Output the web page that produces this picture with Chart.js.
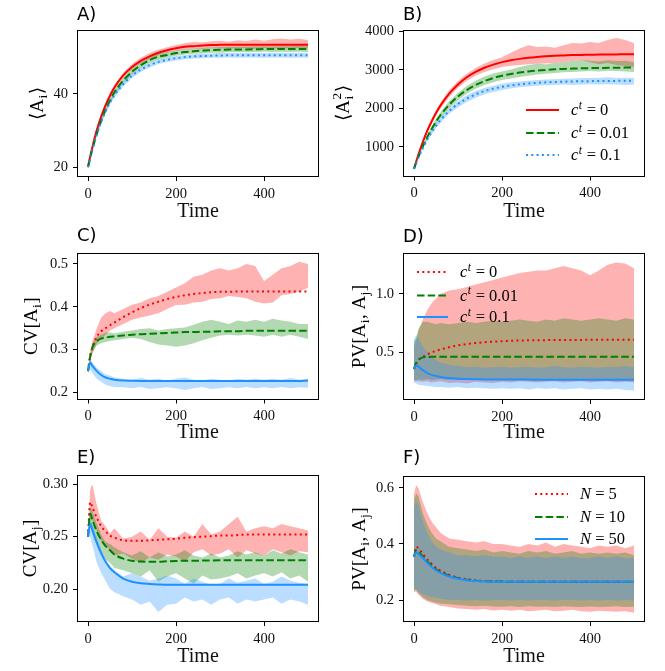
<!DOCTYPE html>
<html>
<head>
<meta charset="utf-8">
<script src="https://cdn.jsdelivr.net/npm/chart.js@4.4.1/dist/chart.umd.min.js"></script>
<style>
  body { margin: 0; background: #fff; width: 665px; height: 671px; position: relative; overflow: hidden; }
  canvas { position: absolute; }
</style>
</head>
<body>
<canvas id="cA"></canvas>
<canvas id="cB"></canvas>
<canvas id="cC"></canvas>
<canvas id="cD"></canvas>
<canvas id="cE"></canvas>
<canvas id="cF"></canvas>
<script>
// time grid shared by every series
const T = [0,5,10,20,30,40,50,60,80,100,120,140,160,180,200,220,240,260,280,300,320,340,360,380,400,420,440,460,480,500];

// A) <A_i>
const aRed    = [20,22.9,25.5,30.1,33.8,36.9,39.5,41.7,45.0,47.3,49.0,50.2,51.2,51.9,52.4,52.8,53.0,53.2,53.3,53.35,53.4,53.4,53.4,53.4,53.4,53.4,53.4,53.4,53.4,53.4];
const aRedLo  = [20,22.6,25.1,29.5,33.1,36.2,38.8,41.0,44.3,46.6,48.3,49.5,50.5,51.2,51.7,52.0,52.2,52.3,52.4,52.4,52.3,52.5,52.4,52.3,52.5,52.4,52.3,52.4,52.5,52.4];
const aRedHi  = [20,23.2,25.9,30.7,34.5,37.6,40.2,42.4,45.7,48.1,49.8,51.1,52.0,52.7,53.3,53.8,54.1,54.0,54.3,54.5,54.2,54.6,54.4,54.8,54.5,54.9,55.1,54.8,55.0,54.7];
const aGreen  = [20,22.6,24.9,29.1,32.7,35.7,38.2,40.4,43.6,46.0,47.8,49.2,50.1,50.6,51.1,51.4,51.6,51.8,51.9,52.0,52.05,52.1,52.1,52.15,52.2,52.2,52.2,52.2,52.2,52.2];
const aGreenLo = [20,22.3,24.5,28.6,32.1,35.0,37.5,39.7,42.9,45.2,47.0,48.4,49.3,49.9,50.4,50.7,50.9,51.0,51.2,51.2,51.3,51.4,51.3,51.4,51.5,51.4,51.5,51.4,51.5,51.4];
const aGreenHi = [20,22.9,25.3,29.6,33.3,36.4,38.9,41.1,44.3,46.8,48.6,50.0,50.9,51.4,51.8,52.1,52.3,52.5,52.6,52.7,52.8,52.8,52.9,52.9,53.0,52.9,53.0,53.0,53.1,53.0];
const aBlue   = [20,22.5,24.8,28.9,32.3,35.2,37.6,39.6,42.6,44.9,46.6,47.8,48.7,49.3,49.7,50.0,50.2,50.3,50.4,50.45,50.5,50.5,50.5,50.5,50.5,50.5,50.5,50.5,50.5,50.5];
const aBlueLo = [20,22.2,24.4,28.4,31.7,34.6,37.0,39.0,42.0,44.3,46.0,47.2,48.1,48.7,49.1,49.4,49.6,49.7,49.8,49.8,49.9,49.8,49.9,49.9,49.8,49.9,49.9,49.8,49.9,49.8];
const aBlueHi = [20,22.8,25.2,29.4,32.9,35.8,38.2,40.2,43.2,45.5,47.2,48.4,49.3,49.9,50.3,50.6,50.8,50.9,51.0,51.1,51.1,51.2,51.1,51.2,51.1,51.2,51.2,51.1,51.2,51.1];

// B) <A_i^2>
const bRed    = [430,622,802,1127,1414,1661,1881,2072,2385,2624,2809,2948,3058,3139,3204,3252,3288,3317,3339,3356,3368,3377,3386,3392,3395,3400,3403,3405,3407,3410];
const bRedLo  = [430,600,770,1080,1360,1600,1810,2000,2300,2540,2720,2850,2950,3020,3080,3110,3130,3150,3160,3170,3180,3200,3230,3260,3200,3150,3180,3130,3100,3080];
const bRedHi  = [430,640,830,1170,1470,1720,1950,2150,2470,2710,2900,3050,3170,3260,3330,3450,3560,3640,3600,3610,3580,3640,3700,3690,3730,3700,3780,3830,3780,3700];
const bGreen  = [430,590,740,1013,1255,1466,1656,1822,2096,2310,2478,2608,2710,2789,2850,2897,2934,2963,2986,3003,3017,3028,3036,3043,3048,3052,3055,3058,3061,3064];
const bGreenLo = [430,575,715,975,1200,1400,1580,1740,2000,2210,2380,2510,2610,2680,2740,2780,2820,2850,2880,2900,2920,2940,2950,2960,2970,2960,2980,2970,2960,2950];
const bGreenHi = [430,605,765,1050,1310,1530,1730,1900,2190,2410,2580,2720,2830,2910,2960,3010,3080,3130,3160,3150,3180,3200,3230,3260,3240,3220,3250,3230,3240,3210];
const bBlue   = [430,578,716,966,1186,1376,1545,1692,1932,2115,2257,2365,2450,2512,2562,2599,2626,2649,2665,2679,2688,2695,2702,2706,2709,2712,2714,2716,2718,2719];
const bBlueLo = [430,565,695,935,1145,1330,1490,1630,1860,2030,2170,2280,2370,2430,2480,2520,2550,2570,2590,2600,2610,2620,2610,2620,2630,2620,2630,2620,2610,2620];
const bBlueHi = [430,590,735,995,1225,1420,1595,1750,2000,2190,2340,2450,2530,2590,2640,2680,2700,2720,2740,2750,2760,2770,2780,2790,2790,2800,2810,2790,2800,2790];

// C) CV[A_i]
const cRed    = [0.25,0.285,0.305,0.33,0.343,0.35,0.357,0.363,0.376,0.387,0.397,0.405,0.412,0.418,0.423,0.427,0.43,0.432,0.434,0.435,0.435,0.436,0.436,0.436,0.436,0.436,0.436,0.436,0.436,0.436];
const cRedLo  = [0.25,0.27,0.29,0.315,0.325,0.335,0.345,0.35,0.36,0.37,0.375,0.38,0.385,0.395,0.404,0.405,0.41,0.412,0.418,0.42,0.425,0.423,0.42,0.412,0.408,0.41,0.427,0.43,0.435,0.445];
const cRedHi  = [0.25,0.295,0.32,0.35,0.375,0.385,0.39,0.385,0.395,0.405,0.41,0.42,0.425,0.435,0.445,0.455,0.47,0.475,0.485,0.49,0.485,0.49,0.5,0.495,0.46,0.475,0.49,0.495,0.505,0.5];
const cGreen  = [0.25,0.285,0.305,0.32,0.326,0.328,0.33,0.331,0.333,0.335,0.336,0.337,0.338,0.339,0.34,0.341,0.341,0.342,0.342,0.343,0.343,0.343,0.344,0.344,0.344,0.344,0.344,0.344,0.344,0.344];
const cGreenLo = [0.25,0.28,0.295,0.31,0.315,0.318,0.32,0.322,0.325,0.328,0.325,0.318,0.312,0.31,0.307,0.31,0.315,0.322,0.328,0.333,0.335,0.333,0.335,0.333,0.33,0.335,0.33,0.335,0.33,0.325];
const cGreenHi = [0.25,0.29,0.315,0.33,0.335,0.34,0.34,0.338,0.342,0.345,0.348,0.35,0.345,0.348,0.35,0.352,0.358,0.365,0.37,0.365,0.36,0.368,0.365,0.37,0.365,0.372,0.368,0.365,0.36,0.36];
const cBlue   = [0.25,0.27,0.262,0.25,0.241,0.235,0.232,0.23,0.228,0.2275,0.227,0.227,0.227,0.227,0.227,0.227,0.227,0.227,0.227,0.227,0.227,0.227,0.227,0.227,0.227,0.227,0.227,0.227,0.227,0.228];
const cBlueLo = [0.245,0.255,0.245,0.232,0.225,0.218,0.215,0.213,0.212,0.21,0.213,0.208,0.21,0.212,0.21,0.206,0.21,0.213,0.208,0.21,0.212,0.21,0.213,0.21,0.212,0.21,0.213,0.21,0.212,0.211];
const cBlueHi = [0.255,0.275,0.27,0.258,0.25,0.242,0.24,0.235,0.232,0.23,0.234,0.23,0.232,0.228,0.232,0.235,0.23,0.228,0.232,0.23,0.228,0.232,0.23,0.233,0.23,0.232,0.23,0.234,0.23,0.232];

// D) PV[A_i, A_j]
const dRed    = [0.355,0.4,0.43,0.46,0.48,0.497,0.51,0.522,0.542,0.558,0.57,0.578,0.585,0.59,0.594,0.597,0.6,0.601,0.602,0.603,0.604,0.604,0.605,0.605,0.606,0.606,0.606,0.607,0.607,0.607];
const dRedLo  = [0.25,0.25,0.25,0.245,0.25,0.24,0.245,0.25,0.235,0.24,0.23,0.245,0.24,0.235,0.245,0.24,0.25,0.245,0.24,0.245,0.25,0.24,0.245,0.25,0.24,0.245,0.25,0.24,0.245,0.24];
const dRedHi  = [0.55,0.6,0.68,0.78,0.86,0.92,0.96,1.0,1.03,1.04,1.06,1.08,1.1,1.12,1.14,1.16,1.18,1.19,1.2,1.2,1.22,1.24,1.22,1.2,1.16,1.2,1.25,1.27,1.26,1.22];
const dGreen  = [0.355,0.41,0.435,0.455,0.458,0.46,0.46,0.46,0.46,0.46,0.46,0.46,0.46,0.46,0.46,0.46,0.46,0.46,0.46,0.46,0.46,0.46,0.46,0.46,0.46,0.46,0.46,0.46,0.46,0.46];
const dGreenLo = [0.26,0.26,0.265,0.26,0.27,0.26,0.265,0.27,0.26,0.265,0.26,0.27,0.265,0.26,0.27,0.265,0.26,0.27,0.265,0.26,0.27,0.265,0.26,0.27,0.265,0.26,0.27,0.265,0.26,0.265];
const dGreenHi = [0.6,0.62,0.7,0.76,0.76,0.75,0.74,0.75,0.74,0.75,0.76,0.75,0.76,0.77,0.76,0.77,0.78,0.77,0.76,0.78,0.77,0.79,0.78,0.77,0.78,0.79,0.78,0.77,0.79,0.78];
const dBlue   = [0.355,0.385,0.375,0.345,0.32,0.305,0.295,0.287,0.277,0.272,0.269,0.267,0.266,0.265,0.265,0.264,0.264,0.264,0.263,0.263,0.263,0.263,0.263,0.263,0.263,0.263,0.263,0.263,0.263,0.263];
const dBlueLo = [0.24,0.23,0.22,0.215,0.21,0.205,0.2,0.2,0.195,0.2,0.19,0.195,0.19,0.185,0.19,0.185,0.19,0.18,0.19,0.185,0.19,0.18,0.185,0.19,0.18,0.185,0.18,0.185,0.175,0.17];
const dBlueHi = [0.6,0.65,0.62,0.55,0.5,0.46,0.43,0.41,0.39,0.38,0.37,0.375,0.365,0.37,0.375,0.365,0.37,0.375,0.365,0.37,0.38,0.37,0.365,0.375,0.37,0.365,0.375,0.37,0.38,0.37];

// E) CV[A_j]
const eRed    = [0.25,0.283,0.278,0.268,0.26,0.255,0.251,0.249,0.2465,0.246,0.246,0.2465,0.247,0.2475,0.248,0.249,0.2495,0.25,0.2505,0.251,0.251,0.2515,0.252,0.252,0.252,0.252,0.252,0.252,0.252,0.252];
const eRedLo  = [0.25,0.268,0.265,0.255,0.245,0.24,0.238,0.232,0.234,0.229,0.225,0.23,0.228,0.233,0.231,0.226,0.235,0.238,0.232,0.234,0.238,0.23,0.237,0.234,0.232,0.238,0.235,0.232,0.236,0.235];
const eRedHi  = [0.25,0.295,0.3,0.28,0.265,0.26,0.253,0.258,0.248,0.25,0.255,0.247,0.258,0.25,0.249,0.255,0.25,0.262,0.252,0.255,0.262,0.269,0.255,0.258,0.26,0.258,0.262,0.26,0.258,0.256];
const eGreen  = [0.25,0.272,0.266,0.255,0.247,0.241,0.237,0.233,0.229,0.227,0.2262,0.226,0.226,0.2265,0.2268,0.227,0.227,0.2272,0.2273,0.2274,0.2275,0.2275,0.2275,0.2275,0.2275,0.2275,0.2275,0.2275,0.2275,0.2275];
const eGreenLo = [0.25,0.26,0.255,0.245,0.235,0.228,0.225,0.22,0.218,0.215,0.212,0.218,0.207,0.212,0.215,0.21,0.205,0.213,0.209,0.21,0.212,0.215,0.21,0.213,0.215,0.212,0.216,0.21,0.213,0.207];
const eGreenHi = [0.25,0.278,0.275,0.262,0.252,0.245,0.243,0.24,0.235,0.232,0.236,0.23,0.235,0.231,0.233,0.237,0.232,0.23,0.234,0.23,0.232,0.236,0.233,0.235,0.232,0.237,0.234,0.238,0.235,0.233];
const eBlue   = [0.25,0.262,0.256,0.244,0.234,0.226,0.22,0.216,0.21,0.207,0.2055,0.2048,0.2043,0.204,0.204,0.204,0.204,0.204,0.204,0.204,0.204,0.204,0.204,0.204,0.204,0.204,0.204,0.204,0.204,0.204];
const eBlueLo = [0.25,0.25,0.242,0.225,0.215,0.208,0.2,0.197,0.193,0.19,0.185,0.188,0.178,0.185,0.186,0.192,0.188,0.19,0.185,0.19,0.192,0.186,0.19,0.188,0.19,0.192,0.186,0.19,0.188,0.185];
const eBlueHi = [0.25,0.265,0.262,0.25,0.238,0.228,0.222,0.218,0.212,0.215,0.212,0.208,0.21,0.213,0.21,0.205,0.21,0.207,0.204,0.205,0.21,0.206,0.208,0.21,0.205,0.207,0.212,0.208,0.206,0.205];

// F) PV[A_i, A_j] for several N
const fRed    = [0.355,0.39,0.385,0.365,0.345,0.33,0.315,0.305,0.29,0.28,0.274,0.27,0.268,0.267,0.266,0.265,0.265,0.265,0.265,0.265,0.265,0.265,0.265,0.265,0.265,0.265,0.265,0.265,0.265,0.265];
const fRedLo  = [0.23,0.23,0.22,0.205,0.195,0.19,0.185,0.18,0.175,0.17,0.168,0.165,0.168,0.163,0.165,0.162,0.165,0.16,0.163,0.165,0.16,0.162,0.165,0.16,0.158,0.162,0.16,0.158,0.16,0.155];
const fRedHi  = [0.58,0.61,0.6,0.55,0.51,0.48,0.46,0.44,0.42,0.415,0.41,0.405,0.41,0.4,0.4,0.395,0.39,0.4,0.395,0.405,0.39,0.4,0.395,0.39,0.385,0.395,0.39,0.395,0.385,0.395];
const fGreen  = [0.355,0.378,0.372,0.355,0.338,0.323,0.31,0.3,0.287,0.278,0.272,0.269,0.267,0.266,0.266,0.265,0.265,0.265,0.265,0.265,0.265,0.265,0.265,0.265,0.265,0.265,0.265,0.265,0.265,0.265];
const fGreenLo = [0.235,0.235,0.225,0.21,0.2,0.195,0.19,0.188,0.185,0.182,0.18,0.178,0.18,0.177,0.176,0.178,0.175,0.178,0.176,0.177,0.175,0.178,0.176,0.175,0.177,0.175,0.176,0.178,0.175,0.176];
const fGreenHi = [0.56,0.58,0.57,0.51,0.47,0.44,0.42,0.41,0.39,0.385,0.38,0.375,0.38,0.37,0.375,0.37,0.365,0.375,0.37,0.375,0.365,0.37,0.375,0.365,0.37,0.365,0.37,0.365,0.37,0.36];
const fBlue   = [0.355,0.37,0.365,0.35,0.333,0.318,0.306,0.297,0.284,0.276,0.271,0.268,0.266,0.265,0.265,0.265,0.265,0.265,0.265,0.265,0.265,0.265,0.265,0.265,0.265,0.265,0.265,0.265,0.265,0.265];
const fBlueLo = [0.24,0.24,0.23,0.22,0.215,0.21,0.21,0.205,0.2,0.2,0.198,0.2,0.198,0.2,0.2,0.198,0.2,0.198,0.2,0.2,0.198,0.2,0.2,0.198,0.2,0.198,0.2,0.198,0.2,0.198];
const fBlueHi = [0.53,0.55,0.54,0.48,0.44,0.41,0.39,0.38,0.37,0.36,0.36,0.355,0.36,0.355,0.355,0.35,0.355,0.35,0.355,0.35,0.355,0.35,0.355,0.35,0.35,0.355,0.35,0.355,0.35,0.35];

// tick labels
const xTicks = [0, 200, 400];
const yTicksA = [20, 40];
const yTicksB = [1000, 2000, 3000, 4000];
const yTicksC = [0.2, 0.3, 0.4, 0.5];
const yTicksD = [0.5, 1.0];
const yTicksE = [0.20, 0.25, 0.30];
const yTicksF = [0.2, 0.4, 0.6];

const ctLabels = [[{it: 'c'}, {sup: 't', itScript: true}, ' = 0'],
                  [{it: 'c'}, {sup: 't', itScript: true}, ' = 0.01'],
                  [{it: 'c'}, {sup: 't', itScript: true}, ' = 0.1']];
const nLabels = [[{it: 'N'}, ' = 5'], [{it: 'N'}, ' = 10'], [{it: 'N'}, ' = 50']];

const SERIF = "'Liberation Serif', 'DejaVu Serif', serif";
const SANS = "'DejaVu Sans', sans-serif";
const COLORS = ['#ff0000', '#008000', '#1e90ff'];
const FILLS = ['rgba(255,0,0,0.3)', 'rgba(0,128,0,0.3)', 'rgba(30,144,255,0.3)'];
const SOLID = [], DASHED = [7.5, 3.2], DOTTED = [2, 3.3];

const pts = ys => T.map((t, i) => ({x: t, y: ys[i]}));

function fontOf(size, italic) {
    return (italic ? 'italic ' : '') + size + 'px ' + SERIF;
}

// tiny math text: strings upright, {it} italic, {sub,sup} scripts
function drawMath(ctx, parts, x, y, size, align) {
    const widths = parts.map(p => {
        if (typeof p === 'string') { ctx.font = fontOf(size); return ctx.measureText(p).width; }
        if (p.it) { ctx.font = fontOf(size, true); return ctx.measureText(p.it).width; }
        ctx.font = fontOf(size * 0.7, p.itScript);
        return Math.max(...[p.sub, p.sup].filter(Boolean).map(s => ctx.measureText(s).width)) + 1;
    });
    const total = widths.reduce((a, b) => a + b, 0);
    let cx = align === 'center' ? x - total / 2 : x;
    const base = y + size * 0.33;
    ctx.textAlign = 'left';
    ctx.textBaseline = 'alphabetic';
    parts.forEach((p, i) => {
        if (typeof p === 'string') { ctx.font = fontOf(size); ctx.fillText(p, cx, base); }
        else if (p.it) { ctx.font = fontOf(size, true); ctx.fillText(p.it, cx, base); }
        else {
            ctx.font = fontOf(size * 0.7, p.itScript);
            if (p.sub) ctx.fillText(p.sub, cx + 0.5, base + size * 0.22);
            if (p.sup) ctx.fillText(p.sup, cx + 0.5, base - size * 0.42);
        }
        cx += widths[i];
    });
}

const panels = [
    {id: 'cA', box: [0, 0, 330, 224], area: [77, 30, 319, 177], yRange: [17.3, 57.4], yTicks: yTicksA, dec: 0,
     title: 'A)', titleY: 20, yLabX: 37, yLab: ['⟨A', {sub: 'i'}, '⟩'],
     series: [[aRed, aRedLo, aRedHi, SOLID], [aGreen, aGreenLo, aGreenHi, DASHED], [aBlue, aBlueLo, aBlueHi, DOTTED]]},
    {id: 'cB', box: [333, 0, 332, 224], area: [403, 29.5, 645, 176.5], yRange: [230, 4052], yTicks: yTicksB, dec: 0,
     title: 'B)', titleY: 20, yLabX: 343, yLab: ['⟨A', {sub: 'i', sup: '2'}, '⟩'],
     series: [[bRed, bRedLo, bRedHi, SOLID], [bGreen, bGreenLo, bGreenHi, DASHED], [bBlue, bBlueLo, bBlueHi, DOTTED]],
     legend: {x0: 526, x1: 559, tx: 571, rows: [110, 133, 155], labels: ctLabels}},
    {id: 'cC', box: [0, 224, 330, 221], area: [77, 253, 319, 399.5], yRange: [0.1837, 0.5256], yTicks: yTicksC, dec: 1,
     title: 'C)', titleY: 240.7, yLabX: 31, yLab: ['CV[A', {sub: 'i'}, ']'],
     series: [[cRed, cRedLo, cRedHi, DOTTED], [cGreen, cGreenLo, cGreenHi, DASHED], [cBlue, cBlueLo, cBlueHi, SOLID]]},
    {id: 'cD', box: [333, 224, 332, 221], area: [403, 253, 645, 400], yRange: [0.089, 1.351], yTicks: yTicksD, dec: 1,
     title: 'D)', titleY: 241.7, yLabX: 359, yLab: ['PV[A', {sub: 'i'}, ', A', {sub: 'j'}, ']'],
     series: [[dRed, dRedLo, dRedHi, DOTTED], [dGreen, dGreenLo, dGreenHi, DASHED], [dBlue, dBlueLo, dBlueHi, SOLID]],
     legend: {x0: 417, x1: 448, tx: 460, rows: [272, 295.5, 317], labels: ctLabels}},
    {id: 'cE', box: [0, 445, 330, 224], area: [77, 475, 319, 622], yRange: [0.1685, 0.3089], yTicks: yTicksE, dec: 2,
     title: 'E)', titleY: 462.6, yLabX: 30, yLab: ['CV[A', {sub: 'j'}, ']'],
     series: [[eRed, eRedLo, eRedHi, DOTTED], [eGreen, eGreenLo, eGreenHi, DASHED], [eBlue, eBlueLo, eBlueHi, SOLID]]},
    {id: 'cF', box: [333, 445, 332, 224], area: [403, 476, 645, 622], yRange: [0.1216, 0.6427], yTicks: yTicksF, dec: 1,
     title: 'F)', titleY: 462.6, yLabX: 359, yLab: ['PV[A', {sub: 'i'}, ', A', {sub: 'j'}, ']'],
     series: [[fRed, fRedLo, fRedHi, DOTTED], [fGreen, fGreenLo, fGreenHi, DASHED], [fBlue, fBlueLo, fBlueHi, SOLID]],
     legend: {x0: 535, x1: 568, tx: 580, rows: [494, 517, 539], labels: nLabels}}
];

function makeChart(p) {
    const cv = document.getElementById(p.id);
    const [cx, cy, cw, ch] = p.box;
    const [L, Tp, R, B] = p.area;
    cv.width = cw; cv.height = ch;
    cv.style.left = cx + 'px'; cv.style.top = cy + 'px';

    const datasets = [];
    // lines first (drawn on top through "order")
    p.series.forEach((s, k) => datasets.push({
        data: pts(s[0]), borderColor: COLORS[k], borderWidth: 2, borderDash: s[3],
        pointRadius: 0, fill: false, cubicInterpolationMode: 'monotone', order: -k
    }));
    // bands: low edge + high edge filled down to it
    p.series.forEach((s, k) => {
        const lo = datasets.length;
        datasets.push({data: pts(s[1]), borderColor: 'rgba(0,0,0,0)', borderWidth: 0, pointRadius: 0, fill: false, order: 3 - k});
        datasets.push({data: pts(s[2]), borderColor: 'rgba(0,0,0,0)', borderWidth: 0, pointRadius: 0,
                       backgroundColor: FILLS[k], fill: lo, order: 3 - k});
    });

    const decorations = {
        id: 'decorations',
        afterDatasetsDraw(chart) {
            const ctx = chart.ctx;
            const a = chart.chartArea;
            ctx.save();
            ctx.strokeStyle = '#000';
            ctx.lineWidth = 1;
            ctx.strokeRect(Math.round(a.left) + 0.5, Math.round(a.top) + 0.5,
                           Math.round(a.right - a.left) - 1, Math.round(a.bottom - a.top) - 1);
            ctx.restore();
        },
        afterDraw(chart) {
            const ctx = chart.ctx;
            ctx.save();
            ctx.fillStyle = '#000';
            // panel letter
            ctx.font = '18px ' + SANS;
            ctx.textAlign = 'left';
            ctx.textBaseline = 'alphabetic';
            ctx.fillText(p.title, L - cx, p.titleY - cy);
            // rotated y label
            ctx.save();
            ctx.translate(p.yLabX - cx, (Tp + B) / 2 - cy);
            ctx.rotate(-Math.PI / 2);
            drawMath(ctx, p.yLab, 0, 0, 19, 'center');
            ctx.restore();
            // legend
            if (p.legend) {
                const lg = p.legend;
                lg.rows.forEach((ry, k) => {
                    ctx.save();
                    ctx.strokeStyle = COLORS[k];
                    ctx.lineWidth = 2;
                    ctx.setLineDash(p.series[k][3]);
                    ctx.beginPath();
                    ctx.moveTo(lg.x0 - cx, ry - cy);
                    ctx.lineTo(lg.x1 - cx, ry - cy);
                    ctx.stroke();
                    ctx.restore();
                    ctx.fillStyle = '#000';
                    drawMath(ctx, lg.labels[k], lg.tx - cx, ry - cy, 16.5, 'left');
                });
            }
            ctx.restore();
        }
    };

    new Chart(cv, {
        type: 'line',
        data: {datasets},
        options: {
            responsive: false,
            animation: false,
            events: [],
            layout: {padding: {left: 0, top: Tp - cy, right: cx + cw - R, bottom: 0}},
            plugins: {legend: {display: false}, tooltip: {enabled: false}},
            scales: {
                x: {
                    type: 'linear', min: -25, max: 525,
                    afterBuildTicks: s => { s.ticks = xTicks.map(v => ({value: v})); },
                    afterFit: s => { s.height = cy + ch - B; },
                    grid: {drawOnChartArea: false, drawTicks: true, tickLength: 4, color: '#000', lineWidth: 1},
                    border: {display: false},
                    ticks: {font: {family: SERIF, size: 14.5}, color: '#111', padding: 4, maxRotation: 0, autoSkip: false,
                            callback: v => String(v)},
                    title: {display: true, text: 'Time', font: {family: SERIF, size: 20}, color: '#111', padding: 0}
                },
                y: {
                    type: 'linear', min: p.yRange[0], max: p.yRange[1],
                    afterBuildTicks: s => { s.ticks = p.yTicks.map(v => ({value: v})); },
                    afterFit: s => { s.width = L - cx; },
                    grid: {drawOnChartArea: false, drawTicks: true, tickLength: 4, color: '#000', lineWidth: 1},
                    border: {display: false},
                    ticks: {font: {family: SERIF, size: 14.5}, color: '#111', padding: 5, autoSkip: false,
                            callback: v => Number(v).toFixed(p.dec)}
                }
            }
        },
        plugins: [decorations]
    });
}

panels.forEach(makeChart);
</script>
</body>
</html>
